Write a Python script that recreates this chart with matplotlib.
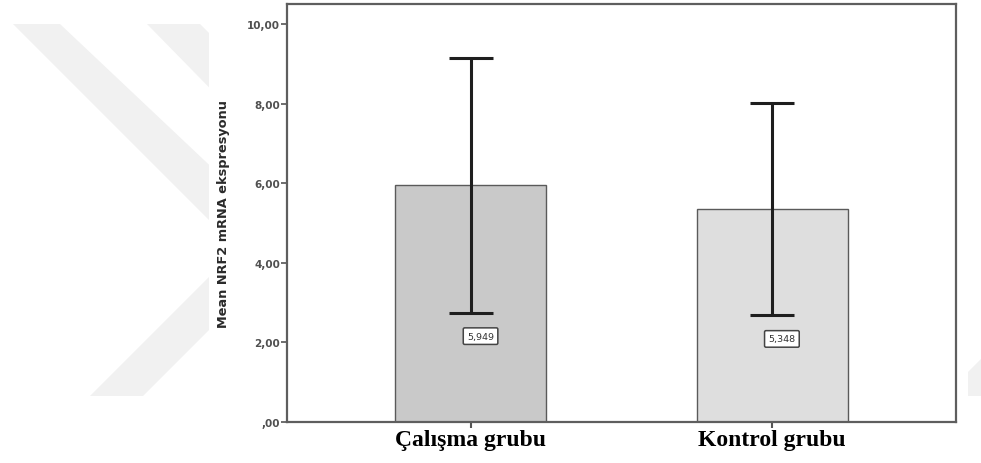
import matplotlib
matplotlib.use("agg")
from matplotlib import pyplot as plt
from matplotlib.patches import Polygon, Rectangle
from matplotlib.ticker import FuncFormatter, MultipleLocator

groups = ['Çalışma grubu', 'Kontrol grubu']
means = [5.949, 5.348]
err_low = [2.75, 2.68]
err_high = [9.15, 8.02]
bar_colors = ['#c9c9c9', '#dedede']

W, H = 981, 464
fig = plt.figure(figsize=(W / 100, H / 100), dpi=100, facecolor='white')

# background layer: faint watermark chevrons + white chart canvas
bg = fig.add_axes([0, 0, 1, 1])
bg.set_xlim(0, W)
bg.set_ylim(H, 0)
bg.axis('off')
wm = '#f1f1f1'
bg.add_patch(Polygon([(13, 25), (60, 25), (240, 195), (240, 252)], closed=True, color=wm, lw=0))
bg.add_patch(Polygon([(147, 25), (200, 25), (240, 65), (240, 120)], closed=True, color=wm, lw=0))
bg.add_patch(Polygon([(90, 397), (143, 397), (240, 300), (240, 247)], closed=True, color=wm, lw=0))
bg.add_patch(Polygon([(968, 373), (981, 360), (981, 397), (968, 397)], closed=True, color=wm, lw=0))
bg.add_patch(Rectangle((209, 0), 753, 445, color='white', lw=0))

ax = fig.add_axes([287 / W, 1 - 423 / H, (956 - 287) / W, (423 - 5) / H])
x = list(range(len(groups)))
ax.bar(x, means, width=0.5, color=bar_colors, edgecolor='#5a5a5a', linewidth=1.0, zorder=2)

lower = [m - lo for m, lo in zip(means, err_low)]
upper = [hi - m for m, hi in zip(means, err_high)]
ax.errorbar(x, means, yerr=[lower, upper], fmt='none', ecolor='#1e1e1e',
            elinewidth=2.2, capsize=16, capthick=2.2, zorder=3)

for xi, m, lo in zip(x, means, err_low):
    ax.annotate(f'{m:.3f}'.replace('.', ','), xy=(xi, lo), xytext=(7, -17),
                textcoords='offset points', ha='center', va='center',
                fontsize=6.8, color='#333333', zorder=4,
                bbox=dict(boxstyle='round,pad=0.4,rounding_size=0.15', fc='white',
                          ec='#444444', lw=1.1))

ax.set_xlim(-0.61, 1.61)
ax.set_ylim(0, 10.5)
ax.yaxis.set_major_locator(MultipleLocator(2))


def spss_fmt(v, pos):
    s = f'{v:.2f}'.replace('.', ',')
    return s[1:] if s.startswith('0') else s


ax.yaxis.set_major_formatter(FuncFormatter(spss_fmt))
ax.set_xticks(x)
ax.set_xticklabels(groups, fontfamily='Liberation Serif', fontweight='bold',
                   fontsize=17, color='black')
ax.tick_params(axis='x', length=4, width=1.5, color='#555555', pad=1)
ax.tick_params(axis='y', length=4, width=1.2, color='#555555', pad=1,
               labelsize=7.5, labelcolor='#505050')
for lab in ax.get_yticklabels():
    lab.set_fontweight('bold')

ax.set_ylabel('Mean NRF2 mRNA ekspresyonu', fontsize=9.3, fontweight='bold', color='#2a2a2a')
ax.yaxis.set_label_coords(-0.085, 0.5)

for sp in ax.spines.values():
    sp.set_color('#5e5e5e')
    sp.set_linewidth(1.6)
ax.set_facecolor('white')

fig.savefig('out.png', dpi=100, facecolor='white')
